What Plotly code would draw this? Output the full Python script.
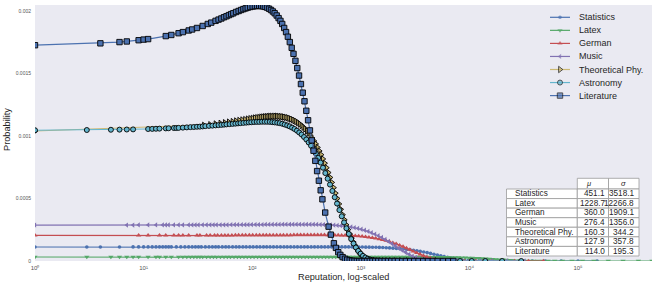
import math
import plotly.graph_objects as go

# ---------------- data ----------------
names = ["Statistics", "Latex", "German", "Music", "Theoretical Phy.", "Astronomy", "Literature"]
mu_vals = [451.1, 1228.7, 360.0, 276.4, 160.3, 127.9, 114.0]
sigma_vals = [3518.1, 12266.8, 1909.1, 1356.0, 344.2, 357.8, 195.3]

x_tick_vals = [1, 10, 100, 1000, 10000, 100000]
x_tick_text = ["10⁰", "10¹", "10²", "10³", "10⁴", "10⁵"]
y_tick_vals = [0, 0.0005, 0.001, 0.0015, 0.002]
y_tick_text = ["0", "0.0005", "0.001", "0.0015", "0.002"]

# reputation values (x) and probability values in units of 1e-6 (y)
stat_x = [1, 3, 4, 6, 8, 9, 10, 11, 12, 13, 14, 15, 16, 17, 18, 20, 22, 24, 26, 28, 30, 32, 34, 37, 40, 43, 46, 49, 53, 57, 61, 66, 71, 76, 82, 88, 95, 102, 110, 118, 127, 136, 146, 157, 169, 182, 196, 210, 226, 243, 261, 281, 302, 324, 349, 375, 403, 433, 466, 501, 538, 579, 622, 669, 719, 773, 831, 893, 960, 1032, 1110, 1193, 1282, 1379, 1482, 1593, 1713, 1841, 1979, 2128, 2287, 2459, 2643, 2842, 3055, 3284, 3530, 3795, 4080, 4386, 4715, 5069, 5449, 5857, 6297, 6769, 7277, 7823, 8410, 9040, 9718, 10450, 11230, 12070, 12980, 13950, 15000, 16500, 18500, 21000, 25000, 30000, 38000, 50000, 70000, 100000, 150000]
stat_y = [112, 112, 112, 112,
          113, 113, 113, 113, 113, 113, 113, 113,
          113, 113, 113, 113, 113, 113, 113, 113,
          113, 113, 113, 113, 113, 113, 113, 113,
          113, 113, 113, 113, 113, 113, 113, 113,
          113, 113, 113, 113, 113, 113, 113, 113,
          113, 113, 113, 113, 113, 113, 113, 113,
          113, 113, 113, 113, 113, 113, 113, 113,
          113, 113, 113, 113, 113, 113, 113, 113,
          112, 112, 111, 111, 110, 110, 109, 108, 106, 105,
          103, 101, 99, 96, 93, 90, 86, 82, 77, 72,
          67, 61, 54, 48, 41, 35, 29, 23, 17, 13,
          9, 6, 4, 2, 1,
          0, 0, 0, 0, 0, 0, 0, 0, 0, 0, 0, 0, 0, 0]

latex_x = [1, 3, 5, 6, 7, 8, 9, 11, 13, 14, 16, 18, 21, 23, 25, 27, 29, 31, 33, 35, 38, 41, 44, 47, 51, 55, 59, 63, 68, 73, 78, 84, 90, 97, 104, 112, 120, 129, 139, 149, 160, 172, 185, 199, 214, 230, 247, 266, 286, 307, 330, 355, 381, 410, 441, 474, 509, 547, 588, 632, 680, 731, 785, 844, 908, 976, 1049, 1127, 1212, 1303, 1400, 1505, 1618, 1740, 1870, 2010, 2161, 2323, 2497, 2684, 2886, 3102, 3335, 3585, 3854, 4143, 4454, 4788, 5147, 5533, 5948, 6394, 6873, 7389, 7943, 8538, 9179, 9867, 10610, 11400, 12260, 13180, 14170, 15230, 16370, 17600, 18920, 20340, 21860, 23500, 25270, 27160, 29200, 31390, 33740, 36270, 39000, 42500, 47000, 53000, 61000, 72000, 88000, 110000, 140000, 190000, 260000, 360000, 480000]
latex_y = [32, 32, 32, 32, 32, 32, 32, 32, 32, 32,
           32, 32, 32, 32, 32, 32, 32, 32, 32, 32,
           32, 32, 32, 32, 32, 32, 32, 32, 32, 32,
           32, 32, 32, 32, 32, 32, 32, 32, 32, 32,
           32, 32, 32, 32, 32, 32, 32, 32, 32, 32,
           32, 32, 32, 32, 32, 32, 32, 32, 32, 32,
           32, 32,
           33, 33, 33, 33, 33, 33, 33, 33, 33, 33, 33,
           32, 32, 32, 32, 32, 32, 32, 32, 32, 32, 32, 32, 32,
           31, 31, 31, 31,
           30, 30, 29, 29, 28, 27, 26, 25, 24, 23,
           22, 20, 19, 17, 15, 13, 11, 10, 8, 6,
           5, 3, 2, 2, 1, 1,
           0, 0, 0, 0, 0, 0, 0, 0, 0, 0, 0, 0, 0]

german_x = [1, 9, 11, 14, 16, 19, 21, 23, 26, 31, 33, 38, 41, 45, 48, 52, 56, 60, 65, 70, 75, 81, 87, 94, 101, 109, 117, 126, 135, 145, 156, 168, 181, 194, 209, 225, 242, 260, 279, 300, 323, 347, 373, 401, 431, 463, 498, 536, 576, 619, 666, 716, 769, 827, 889, 956, 1028, 1105, 1188, 1277, 1373, 1476, 1586, 1705, 1833, 1971, 2118, 2277, 2448, 2632, 2829, 3041, 3270, 3515, 3779, 4062, 4367, 4694, 5046, 5425, 5832, 6269, 6740, 7245, 7788, 8372, 9000, 10000, 11500, 13500, 16000, 20000, 26000, 35000, 48000]
german_y = [205, 205,
            206, 206, 206, 206, 206, 206, 206, 206, 206, 206, 206, 206, 206, 206, 206, 206, 206,
            207, 207, 207, 207, 207, 207, 207, 207, 207,
            208, 208, 208, 208, 208, 208, 208, 208,
            209, 209, 209, 209, 209, 209, 209, 209, 209, 209,
            208, 208, 208,
            207, 206, 205, 204, 203, 201, 199, 197, 194, 190,
            186, 182, 176, 170, 163, 155, 146, 137, 126, 115,
            103, 91, 78, 65, 53, 42, 32, 23, 16, 10,
            6, 3, 2, 1,
            0, 0, 0, 0, 0, 0, 0, 0, 0, 0, 0, 0]

music_x = [1, 7, 8, 9, 11, 13, 15, 16, 17, 19, 21, 23, 26, 28, 30, 32, 35, 38, 41, 44, 47, 51, 55, 59, 64, 69, 74, 80, 86, 92, 99, 107, 115, 124, 133, 143, 154, 166, 178, 192, 206, 222, 238, 256, 275, 296, 318, 342, 368, 395, 425, 457, 491, 528, 568, 610, 656, 705, 758, 815, 876, 942, 1013, 1088, 1170, 1258, 1352, 1453, 1562, 1680, 1806, 1941, 2087, 2243, 2411, 2592, 2787, 2996, 3220, 3462, 3721, 4000, 4300, 4623, 4970, 5342, 5743, 6174, 6637, 7135, 7670, 8500, 10000, 12500, 16000, 22000, 32000]
music_y = [288, 288, 288,
           289, 289, 289, 289, 289, 289, 289, 289, 289, 289, 289, 289, 289,
           290, 290, 290, 290, 290, 290, 290, 290,
           291, 291, 291, 291, 291, 291,
           292, 292, 292, 292,
           293, 293, 293, 293, 293,
           294, 294, 294, 294, 294, 294, 294, 294, 294, 294,
           293, 292, 292, 291, 289, 287, 285, 283, 280, 276,
           272, 267, 261, 254, 246, 237, 226, 215, 202, 188,
           172, 156, 138, 121, 103, 85, 68, 53, 39, 28,
           19, 12, 7, 4, 2, 1,
           0, 0, 0, 0, 0, 0, 0, 0, 0, 0, 0, 0]

theo_x = [1, 36, 41, 46, 51, 56, 61, 66, 71, 76, 81, 86, 91, 96, 101, 106, 111, 116, 121, 126, 131, 136, 141, 146, 151, 157, 163, 169, 175, 182, 189, 196, 203, 211, 219, 227, 236, 245, 254, 264, 274, 285, 296, 307, 319, 331, 344, 357, 371, 385, 400, 415, 431, 448, 465, 483, 502, 521, 541, 562, 584, 606, 630, 654, 680, 706, 733, 762, 791, 822, 854, 887, 921, 957, 994, 1033, 1073, 1115, 1160, 1210, 1270, 1340, 1420, 1510, 1620, 1750, 1900, 2100, 2350, 2700, 3200, 3900, 5000]
theo_y = [1041, 1086, 1091, 1097, 1102, 1107, 1112, 1116, 1121, 1125,
          1129, 1132, 1136, 1139, 1142, 1145, 1147, 1149, 1152, 1153,
          1155, 1156, 1157, 1158, 1159, 1159, 1159, 1159, 1158, 1157,
          1155, 1153, 1150, 1147, 1142, 1137, 1131, 1124, 1117, 1108,
          1097, 1085, 1072, 1058, 1042, 1025, 1005, 984, 961, 937,
          909, 881, 851, 817, 783, 747, 708, 669, 629, 587,
          543, 501, 457, 414, 371, 330, 290, 251, 216, 183,
          152, 125, 101, 80, 62, 47, 34, 25, 17, 11,
          6, 3, 1, 1, 0, 0, 0, 0, 0, 0,
          0, 0, 0]

astr_x = [1, 3, 5, 6, 7, 8, 11, 12, 13, 14, 16, 17, 19, 20, 21, 23, 25, 27, 29, 31, 33, 35, 37, 40, 43, 46, 49, 52, 55, 58, 62, 66, 70, 74, 78, 83, 88, 93, 98, 104, 110, 116, 123, 130, 137, 145, 153, 161, 170, 179, 189, 199, 210, 221, 233, 245, 258, 271, 285, 300, 315, 331, 348, 366, 385, 405, 426, 448, 471, 495, 520, 547, 575, 604, 635, 667, 701, 737, 775, 815, 857, 901, 947, 996, 1047, 1101, 1158, 1218, 1281, 1347, 1417, 1490, 1570, 1660, 1760, 1870, 2000, 2150, 2320, 2520, 2750, 3000, 3300, 3700, 4200, 4800, 5600, 6700, 8200, 10500, 14000, 20000, 30000]
astr_y = [1047, 1049, 1051, 1052, 1053, 1054, 1057, 1058, 1059, 1060,
          1062, 1063, 1065, 1065, 1066, 1068, 1070, 1072, 1073, 1075,
          1076, 1078, 1080, 1082, 1084, 1086, 1088, 1090, 1092, 1094,
          1096, 1098, 1100, 1102, 1104, 1106, 1108, 1110, 1111, 1113,
          1114, 1114, 1115, 1115, 1115, 1114, 1112, 1110, 1107, 1104,
          1099, 1093, 1086, 1078, 1068, 1057, 1044, 1029, 1013, 993,
          973, 949, 923, 894, 861, 826, 788, 747, 704, 659,
          612, 561, 511, 460, 408, 358, 309, 262, 217, 176,
          140, 108, 81, 59, 41, 28, 18, 11, 6, 3,
          2, 1,
          0, 0, 0, 0, 0, 0, 0, 0, 0, 0, 0, 0, 0, 0, 0, 0, 0, 0, 0, 0, 0]

lit_x = [1, 4, 6, 7, 9, 10, 11, 16, 18, 21, 23, 26, 28, 31, 35, 39, 42, 46, 49, 52, 55, 58, 61, 64, 67, 71, 75, 79, 83, 87, 91, 96, 101, 106, 111, 116, 121, 126, 131, 137, 143, 149, 155, 161, 168, 175, 182, 189, 197, 205, 213, 222, 231, 240, 250, 260, 270, 281, 292, 303, 315, 327, 340, 353, 367, 381, 396, 411, 427, 443, 470, 505, 530, 565, 590, 620, 648, 680, 715, 750, 790, 830, 875, 920, 970, 1020, 1080, 1140, 1210, 1280, 1360, 1450, 1550, 1660, 1780, 1910, 2050, 2200, 2400, 2600, 2850, 3100, 3400, 3750, 4150, 4600, 5100, 5700, 6400, 7100]
lit_y = [1728, 1743, 1753, 1758, 1768, 1773, 1777, 1801, 1810, 1824,
         1833, 1846, 1854, 1866, 1882, 1898, 1909, 1923, 1933, 1942,
         1952, 1960, 1969, 1977, 1984, 1994, 2002, 2010, 2017, 2023,
         2029, 2034, 2038, 2041, 2042, 2043, 2041, 2039, 2035, 2029,
         2020, 2010, 1998, 1984, 1966, 1945, 1923, 1898, 1866, 1833,
         1796, 1753, 1707, 1659, 1603, 1545, 1485, 1417, 1348, 1279,
         1203, 1127, 1046, 966, 883, 802, 720, 643, 566, 494,
         388, 275, 211, 142, 105, 71, 49, 31, 18, 10,
         5, 2, 1,
         0, 0, 0, 0, 0, 0, 0, 0, 0, 0, 0, 0, 0, 0, 0, 0, 0, 0, 0, 0, 0, 0, 0, 0, 0, 0, 0]

series_x = [stat_x, latex_x, german_x, music_x, theo_x, astr_x, lit_x]
series_y = [stat_y, latex_y, german_y, music_y, theo_y, astr_y, lit_y]

# ---------------- styles ----------------
colors = ["#4C72B0", "#55A868", "#C44E52", "#8172B2", "#CCB974", "#64B5CD", "#4C72B0"]
symbols = ["circle", "triangle-down", "triangle-up", "triangle-left", "triangle-right", "circle", "square"]
msizes = [3.6, 4.6, 4.6, 4.6, 5.6, 5.0, 5.4]
medges = [0, 0, 0, 0, 0.9, 0.9, 0.9]
FONT = "Liberation Sans, Arial, sans-serif"
TXT = "#262626"

fig = go.Figure()
for i in range(len(names)):
    fig.add_trace(go.Scatter(
        x=series_x[i], y=[v / 1e6 for v in series_y[i]],
        mode="lines+markers", name=names[i], showlegend=False,
        line=dict(color=colors[i], width=1.2),
        marker=dict(symbol=symbols[i], size=msizes[i], color=colors[i],
                    line=dict(color="black", width=medges[i])),
        xaxis="x", yaxis="y", hoverinfo="skip"))

# pixel-space overlay axes used for the legend and the table
PX_L, PX_R, PX_T, PX_B = 35, 652, 5, 261

# legend (manual, to match compact spacing)
leg_y0, leg_dy = 17.3, 13.05
for i in range(len(names)):
    yy = leg_y0 + i * leg_dy
    fig.add_trace(go.Scatter(
        x=[550, 560, 570], y=[yy, yy, yy], mode="lines+markers", showlegend=False,
        line=dict(color=colors[i], width=1.2),
        marker=dict(symbol=symbols[i], size=[0, msizes[i], 0], color=colors[i],
                    line=dict(color="black", width=medges[i])),
        xaxis="x2", yaxis="y2", hoverinfo="skip", cliponaxis=False))
    fig.add_annotation(x=576.5, y=yy, xref="x2", yref="y2", text=names[i], showarrow=False,
                       xanchor="left", yanchor="middle", font=dict(size=9, color=TXT, family=FONT))

# table
col_edges = [506.5, 577.3, 608.5, 639.0]
head_top, row_top, row_h = 178.3, 189.0, 9.57
shapes = []
for c in (1, 2):
    shapes.append(dict(type="rect", xref="x2", yref="y2", x0=col_edges[c], x1=col_edges[c + 1],
                       y0=head_top, y1=row_top, fillcolor="white", line=dict(color="#9a9a9a", width=0.8),
                       layer="above"))
for r in range(len(names)):
    y0 = row_top + r * row_h
    for c in range(3):
        shapes.append(dict(type="rect", xref="x2", yref="y2", x0=col_edges[c], x1=col_edges[c + 1],
                           y0=y0, y1=y0 + row_h, fillcolor="white", line=dict(color="#9a9a9a", width=0.8),
                           layer="above"))
    yc = y0 + row_h / 2
    fig.add_annotation(x=col_edges[0] + 6.5, y=yc, xref="x2", yref="y2", text=names[r], showarrow=False,
                       xanchor="left", yanchor="middle", font=dict(size=8.2, color=TXT, family=FONT))
    fig.add_annotation(x=col_edges[2] - 1.8, y=yc, xref="x2", yref="y2", text="%.1f" % mu_vals[r],
                       showarrow=False, xanchor="right", yanchor="middle",
                       font=dict(size=8.2, color=TXT, family=FONT))
    fig.add_annotation(x=col_edges[3] - 3.5, y=yc, xref="x2", yref="y2", text="%.1f" % sigma_vals[r],
                       showarrow=False, xanchor="right", yanchor="middle",
                       font=dict(size=8.2, color=TXT, family=FONT))
hy = (head_top + row_top) / 2
fig.add_annotation(x=588, y=hy, xref="x2", yref="y2", text="<i>μ</i>", showarrow=False,
                   xanchor="center", yanchor="middle", font=dict(size=7.5, color=TXT, family=FONT))
fig.add_annotation(x=623.5, y=hy, xref="x2", yref="y2", text="<i>σ</i>", showarrow=False,
                   xanchor="center", yanchor="middle", font=dict(size=7.5, color=TXT, family=FONT))

# axis titles
fig.add_annotation(x=0.5, y=0, xref="paper", yref="paper", yshift=-15.5, text="Reputation, log-scaled",
                   showarrow=False, xanchor="center", yanchor="middle",
                   font=dict(size=9.2, color=TXT, family=FONT))
fig.add_annotation(x=0, y=0.5, xref="paper", yref="paper", xshift=-28, yshift=3, text="Probability",
                   textangle=-90, showarrow=False, xanchor="center", yanchor="middle",
                   font=dict(size=9.2, color=TXT, family=FONT))

fig.update_layout(
    width=654, height=284,
    margin=dict(l=PX_L, r=654 - PX_R, t=PX_T, b=284 - PX_B),
    plot_bgcolor="#EAEAF2", paper_bgcolor="white",
    font=dict(family=FONT, color=TXT),
    shapes=shapes,
    showlegend=False,
    hovermode=False,
    xaxis=dict(type="log", range=[0, math.log10(max(latex_x))], showgrid=False, zeroline=False,
               showline=False, ticks="", tickvals=x_tick_vals, ticktext=x_tick_text,
               tickfont=dict(size=6, color="#555555", family=FONT), ticklabelstandoff=2),
    yaxis=dict(range=[0, 0.00205], showgrid=False, zeroline=False, showline=False, ticks="",
               tickvals=y_tick_vals, ticktext=y_tick_text,
               tickfont=dict(size=5, color="#555555", family=FONT), ticklabelstandoff=3),
    xaxis2=dict(overlaying="x", range=[PX_L, PX_R], visible=False, anchor="y2"),
    yaxis2=dict(overlaying="y", range=[PX_B, PX_T], visible=False, anchor="x2"),
)

fig.write_html("out.html", config={"displayModeBar": False, "staticPlot": True},
               post_script="document.body.style.margin='0px';document.body.style.overflow='hidden';")
